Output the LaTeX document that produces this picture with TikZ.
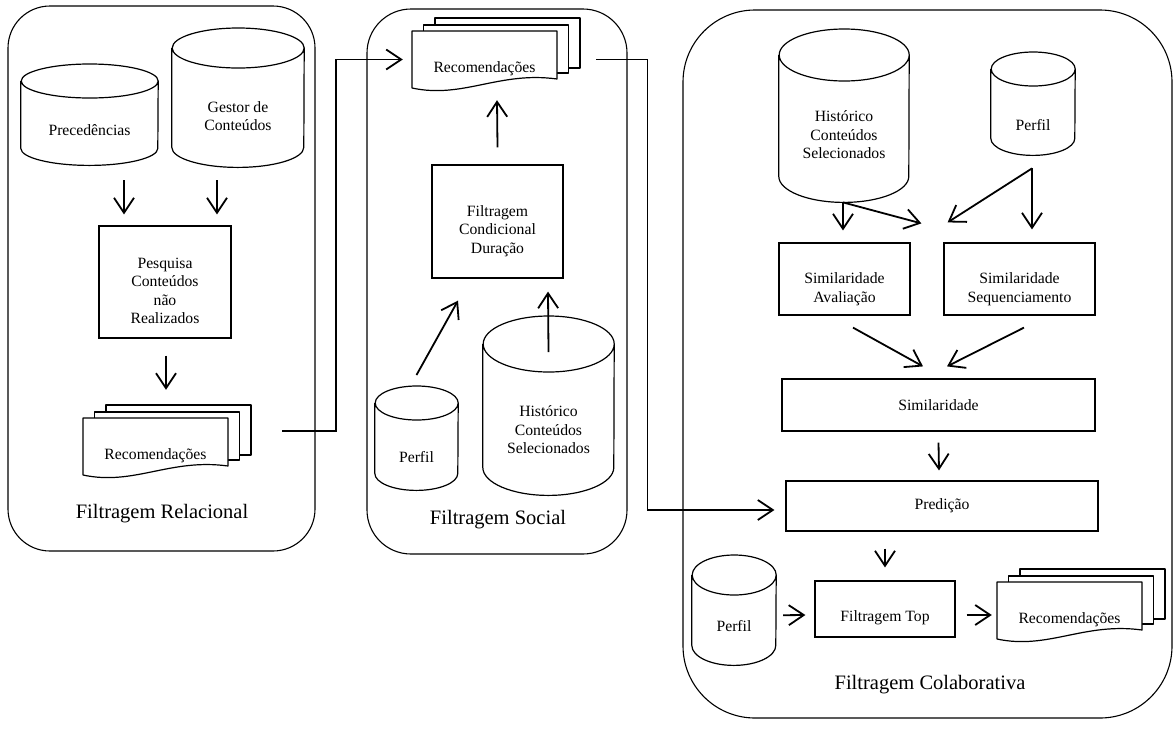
\documentclass[tikz,border=0pt]{standalone}
\usepackage{fontspec}
\setmainfont{Liberation Serif}
\usetikzlibrary{arrows.meta}

% database cylinder: name, centre x, top y, width, height, ellipse radius, text y, text
\newcommand{\dbcyl}[8]{%
  \node[inner sep=0pt, minimum width=#4, minimum height=#5, anchor=north] (#1) at (#2,#3) {};
  \draw[outline] ([yshift=-#6pt]#1.north west) -- ([yshift=#6pt]#1.south west)
    arc[start angle=180, end angle=360, x radius=#4pt/2, y radius=#6pt]
    -- ([yshift=-#6pt]#1.north east)
    arc[start angle=0, end angle=360, x radius=#4pt/2, y radius=#6pt];
  \node[txt] (#1T) at (#2,#7) {#8};
}
% stack of documents: name, left x, top y, text
\newcommand{\recdoc}[4]{%
  \draw[outline] ({#2+23},{#3-6}) -- ({#2+23},{#3-13}) -- ({#2+168},{#3-13})
    -- ({#2+168},{#3+37}) -- ({#2+156.5},{#3+37});
  \draw[outline] ({#2+11.5},{#3}) -- ({#2+11.5},{#3-6}) -- ({#2+156.5},{#3-6})
    -- ({#2+156.5},{#3+42}) -- ({#2+145},{#3+42});
  \draw[outline, fill=white] ({#2},{#3+57}) -- (#2,#3) -- ({#2+145},#3) -- ({#2+145},{#3+48})
    .. controls ({#2+87},{#3+40}) and ({#2+51},{#3+68}) .. ({#2},{#3+57}) -- cycle;
  \node[inner sep=0pt, minimum width=145, minimum height=57] (#1) at ({#2+72.5},{#3+28.5}) {};
  \node[txt] (#1T) at ({#2+72.5},{#3+38}) {#4};
}

\begin{document}
\begin{tikzpicture}[x=1pt, y=-1pt,
  outline/.style={line width=1.2pt, line join=round},
  panel/.style={draw, line width=1.1pt, rounded corners=#1, inner sep=0pt},
  box/.style={draw, line width=1.2pt, inner sep=0pt},
  txt/.style={font=\fontsize{15.7}{18.5}\selectfont, align=center, inner sep=0pt},
  title/.style={font=\fontsize{20.5}{24}\selectfont, inner sep=0pt},
  arr/.style={line width=1.8pt, line join=miter, -{Straight Barb[length=15pt, width=20pt]}},
]
\useasboundingbox (0,0) rectangle (1175,729);

% panels
\node[panel=42pt, minimum width=307, minimum height=545] (relac) at (161.5,278.5) {};
\node[panel=44pt, minimum width=260, minimum height=545] (social) at (497,281.5) {};
\node[panel=72pt, minimum width=489, minimum height=708] (colab) at (927.5,364) {};
\node[title] (relacT) at (162,514) {Filtragem Relacional};
\node[title] (socialT) at (498,520) {Filtragem Social};
\node[title] (colabT) at (930,685) {Filtragem Colaborativa};

% filtragem relacional
\dbcyl{prec}{89.5}{64}{137}{101}{17}{130}{Precedências}
\dbcyl{gestor}{238}{28}{132}{139}{20}{116}{Gestor de\\Conteúdos}
\node[box, minimum width=132, minimum height=112] (pesq) at (165,282) {};
\node[txt] (pesqT) at (165,291) {Pesquisa\\Conteúdos\\não\\Realizados};

% filtragem social
\dbcyl{perfilS}{416.5}{386}{83}{104}{17}{457}{Perfil}
\dbcyl{histS}{548.5}{316}{131}{179}{28}{430}{Histórico\\Conteúdos\\Selecionados}
\node[box, minimum width=131, minimum height=113] (cond) at (497.5,221.5) {};
\node[txt] (condT) at (497.5,231) {Filtragem\\Condicional\\Duração};

% filtragem colaborativa
\dbcyl{histC}{844}{29}{130}{173}{26}{135}{Histórico\\Conteúdos\\Selecionados}
\dbcyl{perfilC}{1033}{52}{84}{103}{17}{125}{Perfil}
\node[box, minimum width=131, minimum height=72] (simA) at (844.5,279) {};
\node[txt] (simAT) at (844.5,289) {Similaridade\\Avaliação};
\node[box, minimum width=151, minimum height=72] (simS) at (1019.5,279) {};
\node[txt] (simST) at (1019.5,289) {Similaridade\\Sequenciamento};
\node[box, txt, minimum width=313, minimum height=52] (sim) at (938.5,405) {Similaridade};
\node[box, txt, minimum width=312, minimum height=50] (pred) at (942,506) {Predição};
\dbcyl{perfilT}{734}{555}{84}{110}{20}{626}{Perfil}
\node[box, minimum width=140, minimum height=56] (top) at (885,609) {};
\node[txt] (topT) at (885,618) {Filtragem Top};

% recommendations
\foreach \nm/\x/\y in {recL/83/418, recS/412/31, recC/997/582} {
  \recdoc{\nm}{\x}{\y}{Recomendações}
}

% arrows
\draw[arr] ([xshift=34.5pt,yshift=-15pt]prec.south) -- ([xshift=-41pt,yshift=11pt]pesq.north);
\draw[arr] ([xshift=-21pt,yshift=-13pt]gestor.south) -- ([xshift=52pt,yshift=11pt]pesq.north);
\draw[arr] ([xshift=1pt,yshift=-17pt]pesq.south) -- ([xshift=10.5pt,yshift=28pt]recL.north);
\draw[arr] ([xshift=54pt,yshift=-13pt]recL.north east) -| ([xshift=-76pt]recS.west) -- ([xshift=-9pt]recS.west);

\draw[arr] ([yshift=17pt]cond.north) -- ([xshift=12.5pt,yshift=-12pt]recS.south);
\draw[arr] ([yshift=11pt]perfilS.north) -- ([xshift=-39.5pt,yshift=-22pt]cond.south);
\draw[arr] ([yshift=-36pt]histS.north) -- ([xshift=50.5pt,yshift=-13pt]cond.south);
\draw[arr] ([xshift=39pt]recS.east) -| ([xshift=-138pt,yshift=-4pt]pred.west) -- ([xshift=-11pt,yshift=-4pt]pred.west);

\draw[arr] ([xshift=-1pt]histC.south) -- ([xshift=-1.5pt,yshift=12pt]simA.north);
\draw[arr] ([xshift=-1pt]histC.south) -- ([xshift=-22pt,yshift=19pt]simS.north west);
\draw[arr] ([xshift=-1pt,yshift=-13pt]perfilC.south) -- ([xshift=37pt,yshift=20pt]simA.north east);
\draw[arr] ([xshift=-1pt,yshift=-13pt]perfilC.south) -- ([xshift=12.5pt,yshift=13pt]simS.north);
\draw[arr] ([xshift=8.5pt,yshift=-12pt]simA.south) -- ([xshift=-15.5pt,yshift=12pt]sim.north);
\draw[arr] ([xshift=4.5pt,yshift=-12pt]simS.south) -- ([xshift=8.5pt,yshift=12pt]sim.north);
\draw[arr] ([yshift=-11pt]sim.south) -- ([xshift=-3pt,yshift=10pt]pred.north);
\draw[arr] ([xshift=-57pt,yshift=-17pt]pred.south) -- ([yshift=13pt]top.north);
\draw[arr] ([xshift=7pt,yshift=-5pt]perfilT.east) -- ([xshift=-9pt,yshift=-6pt]top.west);
\draw[arr] ([xshift=11pt,yshift=-6pt]top.east) -- ([xshift=-5pt,yshift=-4.5pt]recC.west);
\end{tikzpicture}
\end{document}
